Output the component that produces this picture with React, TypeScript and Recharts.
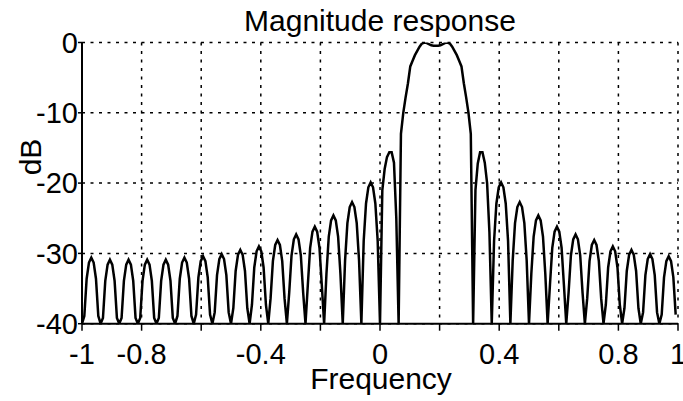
import React from 'react';
import { LineChart, Line, XAxis, YAxis, CartesianGrid } from 'recharts';

// Frequency grid (normalized, 1 = Nyquist), 256 samples
const freq = [
  -1, -0.9922, -0.9844, -0.9766, -0.9688, -0.9609, -0.9531, -0.9453,
  -0.9375, -0.9297, -0.9219, -0.9141, -0.9063, -0.8984, -0.8906, -0.8828,
  -0.875, -0.8672, -0.8594, -0.8516, -0.8438, -0.8359, -0.8281, -0.8203,
  -0.8125, -0.8047, -0.7969, -0.7891, -0.7813, -0.7734, -0.7656, -0.7578,
  -0.75, -0.7422, -0.7344, -0.7266, -0.7188, -0.7109, -0.7031, -0.6953,
  -0.6875, -0.6797, -0.6719, -0.6641, -0.6563, -0.6484, -0.6406, -0.6328,
  -0.625, -0.6172, -0.6094, -0.6016, -0.5938, -0.5859, -0.5781, -0.5703,
  -0.5625, -0.5547, -0.5469, -0.5391, -0.5313, -0.5234, -0.5156, -0.5078,
  -0.5, -0.4922, -0.4844, -0.4766, -0.4688, -0.4609, -0.4531, -0.4453,
  -0.4375, -0.4297, -0.4219, -0.4141, -0.4063, -0.3984, -0.3906, -0.3828,
  -0.375, -0.3672, -0.3594, -0.3516, -0.3438, -0.3359, -0.3281, -0.3203,
  -0.3125, -0.3047, -0.2969, -0.2891, -0.2813, -0.2734, -0.2656, -0.2578,
  -0.25, -0.2422, -0.2344, -0.2266, -0.2188, -0.2109, -0.2031, -0.1953,
  -0.1875, -0.1797, -0.1719, -0.1641, -0.1563, -0.1484, -0.1406, -0.1328,
  -0.125, -0.1172, -0.1094, -0.1016, -0.0938, -0.0859, -0.0781, -0.0703,
  -0.0625, -0.0547, -0.0469, -0.0391, -0.0313, -0.0234, -0.0156, -0.0078,
  0, 0.0078, 0.0156, 0.0234, 0.0313, 0.0391, 0.0469, 0.0547,
  0.0625, 0.0703, 0.0781, 0.0859, 0.0938, 0.1016, 0.1094, 0.1172,
  0.125, 0.1328, 0.1406, 0.1484, 0.1563, 0.1641, 0.1719, 0.1797,
  0.1875, 0.1953, 0.2031, 0.2109, 0.2188, 0.2266, 0.2344, 0.2422,
  0.25, 0.2578, 0.2656, 0.2734, 0.2813, 0.2891, 0.2969, 0.3047,
  0.3125, 0.3203, 0.3281, 0.3359, 0.3438, 0.3516, 0.3594, 0.3672,
  0.375, 0.3828, 0.3906, 0.3984, 0.4063, 0.4141, 0.4219, 0.4297,
  0.4375, 0.4453, 0.4531, 0.4609, 0.4688, 0.4766, 0.4844, 0.4922,
  0.5, 0.5078, 0.5156, 0.5234, 0.5313, 0.5391, 0.5469, 0.5547,
  0.5625, 0.5703, 0.5781, 0.5859, 0.5938, 0.6016, 0.6094, 0.6172,
  0.625, 0.6328, 0.6406, 0.6484, 0.6563, 0.6641, 0.6719, 0.6797,
  0.6875, 0.6953, 0.7031, 0.7109, 0.7188, 0.7266, 0.7344, 0.7422,
  0.75, 0.7578, 0.7656, 0.7734, 0.7813, 0.7891, 0.7969, 0.8047,
  0.8125, 0.8203, 0.8281, 0.8359, 0.8438, 0.8516, 0.8594, 0.8672,
  0.875, 0.8828, 0.8906, 0.8984, 0.9063, 0.9141, 0.9219, 0.9297,
  0.9375, 0.9453, 0.9531, 0.9609, 0.9688, 0.9766, 0.9844, 0.9922,
];

// Magnitude in dB (clipped at -40)
const magDb = [
  -40, -38.9, -33.6, -31.3, -30.6, -31.3, -33.6, -38.9,
  -40, -39.2, -33.9, -31.6, -30.9, -31.6, -33.9, -39.2,
  -40, -39.2, -33.9, -31.6, -30.9, -31.6, -33.9, -39.2,
  -40, -39.2, -33.9, -31.6, -30.9, -31.6, -33.9, -39.2,
  -40, -39.2, -33.9, -31.6, -30.9, -31.6, -33.9, -39.2,
  -40, -38.9, -33.6, -31.3, -30.6, -31.3, -33.6, -38.9,
  -40, -38.7, -33.4, -31.1, -30.4, -31.1, -33.4, -38.7,
  -40, -38.4, -33.1, -30.8, -30.1, -30.8, -33.1, -38.4,
  -40, -37.8, -32.5, -30.2, -29.5, -30.2, -32.5, -37.8,
  -40, -37.3, -32.0, -29.7, -29.0, -29.7, -32.0, -37.3,
  -40, -36.4, -31.1, -28.8, -28.1, -28.8, -31.1, -36.4,
  -40, -35.6, -30.3, -28.0, -27.3, -28.0, -30.3, -35.6,
  -40, -34.5, -29.2, -26.9, -26.2, -26.9, -29.2, -34.5,
  -40, -32.9, -27.6, -25.3, -24.6, -25.3, -27.6, -32.9,
  -40, -31.0, -25.7, -23.4, -22.7, -23.4, -25.7, -31.0,
  -40, -28.2, -22.9, -20.6, -19.9, -20.6, -22.9, -28.2,
  -40, -21.0, -18.0, -16.3, -15.6, -15.6, -17.1, -25.0,
  -40, -13.0, -10.0, -7.8, -5.8, -3.4, -2.6, -1.8,
  -1.2, -0.6, -0.15, 0, -0.05, -0.25, -0.4, -0.45,
  -0.45, -0.45, -0.4, -0.25, -0.05, 0, -0.15, -0.6,
  -1.2, -1.8, -2.6, -3.4, -5.8, -7.8, -10.0, -13.0,
  -40, -21.0, -17.2, -15.6, -15.6, -17.1, -20.0, -27.0,
  -40, -28.2, -22.9, -20.6, -19.9, -20.6, -22.9, -28.2,
  -40, -31.0, -25.7, -23.4, -22.7, -23.4, -25.7, -31.0,
  -40, -32.9, -27.6, -25.3, -24.6, -25.3, -27.6, -32.9,
  -40, -34.5, -29.2, -26.9, -26.2, -26.9, -29.2, -34.5,
  -40, -35.6, -30.3, -28.0, -27.3, -28.0, -30.3, -35.6,
  -40, -36.4, -31.1, -28.8, -28.1, -28.8, -31.1, -36.4,
  -40, -37.3, -32.0, -29.7, -29.0, -29.7, -32.0, -37.3,
  -40, -37.8, -32.5, -30.2, -29.5, -30.2, -32.5, -37.8,
  -40, -38.4, -33.1, -30.8, -30.1, -30.8, -33.1, -38.4,
  -40, -38.7, -33.4, -31.1, -30.4, -31.1, -33.4, -38.7,
];

const xTicks = [-1, -0.8, -0.6, -0.4, -0.2, 0, 0.2, 0.4, 0.6, 0.8, 1];
const xTickLabels = ['-1', '-0.8', '', '-0.4', '', '0', '', '0.4', '', '0.8', '1'];
const yTicks = [-40, -30, -20, -10, 0];
const yTickLabels = ['-40', '-30', '-20', '-10', '0'];

const title = 'Magnitude response';
const xLabel = 'Frequency';
const yLabel = 'dB';

const FONT = '"Liberation Sans", Arial, Helvetica, sans-serif';
const W = 683;
const H = 401;

const data = freq.map((f, i) => ({ f, db: magDb[i] }));

export default function App() {
  return (
    <div style={{ position: 'absolute', left: 0, top: 0, width: W, height: H, background: '#fff' }}>
      <LineChart
        width={W}
        height={H}
        data={data}
        margin={{ top: 42.5, right: 5, bottom: 0, left: 0 }}
      >
        <CartesianGrid
          stroke="#000"
          strokeWidth={1.5}
          strokeDasharray="3 5.5"
          fill="none"
        />
        <XAxis
          dataKey="f"
          type="number"
          domain={[-1, 1]}
          ticks={xTicks}
          interval={0}
          allowDataOverflow
          height={77.3}
          tickSize={7}
          tickMargin={13}
          axisLine={{ stroke: '#000', strokeWidth: 2 }}
          tickLine={{ stroke: '#000', strokeWidth: 1.5 }}
          tick={{ fill: '#000', fontSize: 29, fontFamily: FONT }}
          tickFormatter={(v: number) => xTickLabels[xTicks.indexOf(v)] ?? ''}
        />
        <XAxis
          xAxisId="top"
          orientation="top"
          type="number"
          domain={[-1, 1]}
          allowDataOverflow
          height={0}
          tick={false}
          tickLine={false}
          axisLine={{ stroke: '#000', strokeWidth: 2 }}
        />
        <YAxis
          type="number"
          domain={[-40, 0]}
          ticks={yTicks}
          interval={0}
          allowDataOverflow
          width={82}
          tickSize={4}
          tickMargin={0}
          axisLine={{ stroke: '#000', strokeWidth: 2 }}
          tickLine={{ stroke: '#000', strokeWidth: 1.5 }}
          tick={{ fill: '#000', fontSize: 29, fontFamily: FONT }}
          tickFormatter={(v: number) => yTickLabels[yTicks.indexOf(v)] ?? ''}
        />
        <YAxis
          yAxisId="right"
          orientation="right"
          type="number"
          domain={[-40, 0]}
          allowDataOverflow
          width={0}
          tick={false}
          tickLine={false}
          axisLine={{ stroke: '#000', strokeWidth: 2 }}
        />
        <Line
          type="linear"
          dataKey="db"
          stroke="#000"
          strokeWidth={2.5}
          dot={false}
          activeDot={false}
          isAnimationActive={false}
        />
      </LineChart>
      <svg
        width={W}
        height={H}
        style={{ position: 'absolute', left: 0, top: 0, pointerEvents: 'none' }}
      >
        <text x={380} y={31} textAnchor="middle" fontSize={30} fontFamily={FONT} fill="#000">
          {title}
        </text>
        <text x={381} y={389} textAnchor="middle" fontSize={30} fontFamily={FONT} fill="#000">
          {xLabel}
        </text>
        <text
          transform="translate(41,157) rotate(-90)"
          textAnchor="middle"
          fontSize={30}
          fontFamily={FONT}
          fill="#000"
        >
          {yLabel}
        </text>
      </svg>
    </div>
  );
}
